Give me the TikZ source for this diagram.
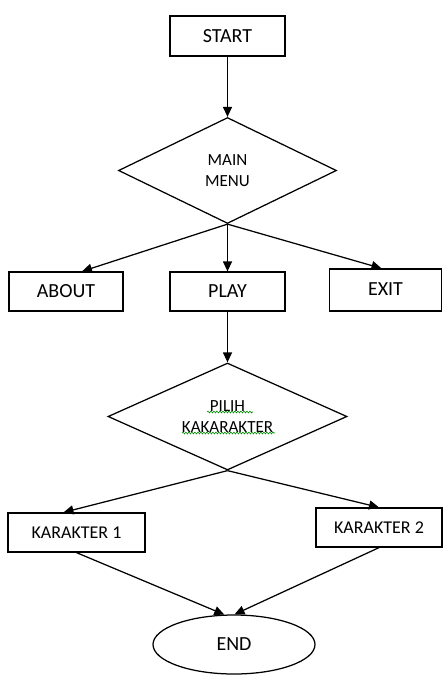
\documentclass[tikz,border=0pt]{standalone}
\usepackage{fontspec}
\setmainfont{Carlito}
\usetikzlibrary{shapes.geometric,arrows.meta,decorations.pathmorphing}
\begin{document}
\begin{tikzpicture}[x=1pt,y=-1pt,
  line width=1.25pt,
  box/.style={draw,rectangle,inner sep=0pt,line width=1.25pt},
  dec/.style={draw,diamond,aspect=2,inner sep=0pt,line width=1.25pt,align=center,font=\fontsize{17}{21}\selectfont},
  arr/.style={-{Triangle[length=10pt,width=9pt]},line width=1.25pt},
  squig/.style={draw=green!55!black,line width=0.6pt,decorate,decoration={snake,amplitude=0.9pt,segment length=3pt}}
]
\useasboundingbox (0,0) rectangle (442,675);
\node[box,minimum width=115pt,minimum height=40pt,font=\fontsize{20}{24}\selectfont] (start) at (227.5,36) {START};
\node[dec,minimum width=218pt,minimum height=106pt] (mm) at (227.5,170.5) {MAIN\\MENU};
\node[box,minimum width=114pt,minimum height=39pt,font=\fontsize{20}{24}\selectfont] (about) at (66,291.5) {ABOUT};
\node[box,minimum width=115pt,minimum height=39pt,font=\fontsize{20}{24}\selectfont] (play) at (227.5,291.5) {PLAY};
\node[box,minimum width=112pt,minimum height=42pt,font=\fontsize{20}{24}\selectfont] (exit) at (385.5,290) {\raisebox{2pt}{EXIT}};
\node[dec,minimum width=239pt,minimum height=107pt] (pk) at (227.5,416.5) {PILIH\\KAKARAKTER};
\node[box,minimum width=137pt,minimum height=39pt,font=\fontsize{18}{22}\selectfont] (k1) at (76.5,532.5) {KARAKTER 1};
\node[box,minimum width=126pt,minimum height=39pt,font=\fontsize{18}{22}\selectfont] (k2) at (379,527.5) {KARAKTER 2};
\node[draw,ellipse,minimum width=162pt,minimum height=59pt,inner sep=0pt,line width=1.25pt,font=\fontsize{20}{24}\selectfont] (end) at (234,644.5) {END};
\draw[arr] (start.south) -- (mm.north);
\draw[arr] (mm.south) -- ([xshift=16pt]about.north);
\draw[arr] (mm.south) -- (play.north);
\draw[arr] (mm.south) -- ([xshift=-4pt]exit.north);
\draw[arr] (play.south) -- (pk.north);
\draw[arr] (pk.south) -- ([xshift=-13pt]k1.north);
\draw[arr] (pk.south) -- (k2.north);
\draw[arr] (k1.south) -- (end.108);
\draw[arr] (k2.south) -- (end.89);
\draw[squig] (207,412) -- (253,412);
\draw[squig] (182,433) -- (275,433);
\end{tikzpicture}
\end{document}
